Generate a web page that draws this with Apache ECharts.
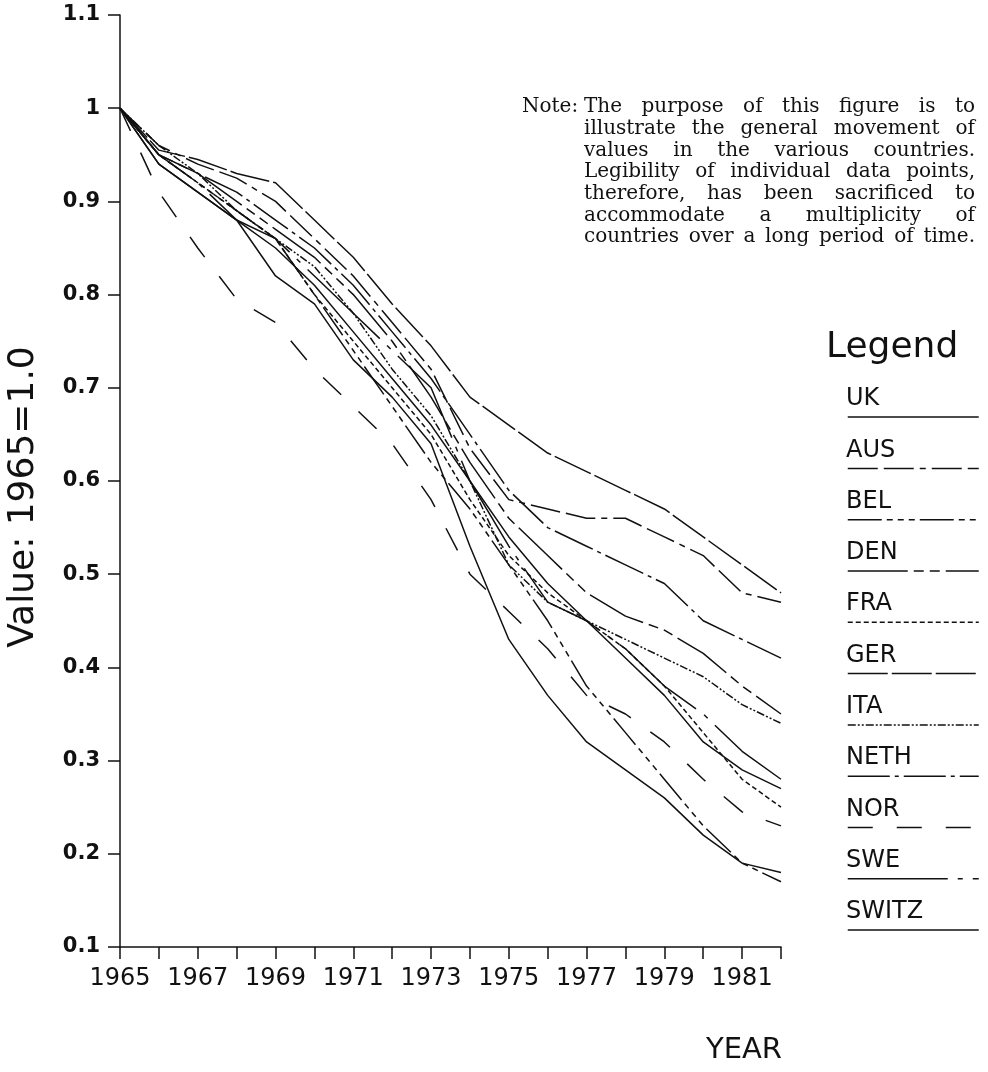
<!DOCTYPE html>
<html>
<head>
<meta charset="utf-8">
<script src="https://cdn.jsdelivr.net/npm/echarts@6/dist/echarts.min.js"></script>
<style>
  html, body { margin: 0; padding: 0; background: #fff; }
  #chart { width: 988px; height: 1072px; }
</style>
</head>
<body>
<div id="chart"></div>
<script>
// years on the x axis (1965 = 1.0 index)
const years = ['1965', '1966', '1967', '1968', '1969', '1970', '1971', '1972', '1973',
  '1974', '1975', '1976', '1977', '1978', '1979', '1980', '1981', '1982'];

const countries = ['UK', 'AUS', 'BEL', 'DEN', 'FRA', 'GER', 'ITA', 'NETH', 'NOR', 'SWE', 'SWITZ'];

// values, one array per country
const ukValues    = [1.00, 0.94, 0.91, 0.88, 0.85, 0.81, 0.76, 0.71, 0.66, 0.60, 0.54, 0.49, 0.45, 0.41, 0.37, 0.32, 0.29, 0.27];
const ausValues   = [1.00, 0.96, 0.94, 0.925, 0.90, 0.86, 0.82, 0.77, 0.72, 0.635, 0.58, 0.57, 0.56, 0.56, 0.54, 0.52, 0.48, 0.47];
const belValues   = [1.00, 0.95, 0.92, 0.89, 0.86, 0.80, 0.74, 0.68, 0.62, 0.57, 0.51, 0.45, 0.38, 0.33, 0.28, 0.23, 0.19, 0.17];
const denValues   = [1.00, 0.95, 0.93, 0.90, 0.87, 0.84, 0.80, 0.75, 0.69, 0.62, 0.56, 0.52, 0.48, 0.455, 0.44, 0.415, 0.38, 0.35];
const fraValues   = [1.00, 0.95, 0.92, 0.89, 0.86, 0.80, 0.75, 0.70, 0.65, 0.58, 0.52, 0.48, 0.45, 0.42, 0.38, 0.33, 0.28, 0.25];
const gerValues   = [1.00, 0.955, 0.945, 0.93, 0.92, 0.88, 0.84, 0.79, 0.745, 0.69, 0.66, 0.63, 0.61, 0.59, 0.57, 0.54, 0.51, 0.48];
const itaValues   = [1.00, 0.96, 0.93, 0.89, 0.86, 0.83, 0.78, 0.72, 0.67, 0.60, 0.51, 0.47, 0.45, 0.43, 0.41, 0.39, 0.36, 0.34];
const nethValues  = [1.00, 0.95, 0.93, 0.91, 0.88, 0.85, 0.81, 0.76, 0.71, 0.65, 0.59, 0.55, 0.53, 0.51, 0.49, 0.45, 0.43, 0.41];
const norValues   = [1.00, 0.91, 0.85, 0.795, 0.77, 0.72, 0.68, 0.64, 0.58, 0.50, 0.46, 0.42, 0.37, 0.35, 0.32, 0.28, 0.245, 0.23];
const sweValues   = [1.00, 0.95, 0.92, 0.88, 0.86, 0.82, 0.78, 0.74, 0.70, 0.60, 0.53, 0.47, 0.45, 0.42, 0.38, 0.35, 0.31, 0.28];
const switzValues = [1.00, 0.94, 0.91, 0.88, 0.82, 0.79, 0.73, 0.69, 0.64, 0.53, 0.43, 0.37, 0.32, 0.29, 0.26, 0.22, 0.19, 0.18];

const seriesValues = [ukValues, ausValues, belValues, denValues, fraValues, gerValues,
  itaValues, nethValues, norValues, sweValues, switzValues];

// dash pattern per country (styling only)
const dashStyles = {
  UK: 'solid',
  AUS: [30, 6, 30, 6, 6, 6],
  BEL: [34, 5, 6, 5, 6, 5, 6, 5],
  DEN: [60, 6, 10, 6, 10, 6],
  FRA: [5, 3],
  GER: [40, 4],
  ITA: [8, 2, 2, 2, 2, 2],
  NETH: [42, 5, 4, 5],
  NOR: [25, 24],
  SWE: [100, 10, 5, 10],
  SWITZ: 'solid'
};

const noteLines = [
  'The purpose of this figure is to',
  'illustrate the general movement of',
  'values in the various countries.',
  'Legibility of individual data points,',
  'therefore, has been sacrificed to',
  'accommodate a multiplicity of',
  'countries over a long period of time.'
];

const sansFont = '"DejaVu Sans", sans-serif';
const noteFont = '20px "DejaVu Serif", serif';

// justify one line of the note between x0 and x1
const measureCtx = document.createElement('canvas').getContext('2d');
function justifiedLine(text, x0, x1, y) {
  measureCtx.font = noteFont;
  const words = text.split(' ');
  const widths = words.map(w => measureCtx.measureText(w).width);
  const total = widths.reduce((a, b) => a + b, 0);
  const gap = words.length > 1 ? Math.max(4, (x1 - x0 - total) / (words.length - 1)) : 0;
  const els = [];
  let x = x0;
  words.forEach((w, i) => {
    els.push({
      type: 'text', x: x, y: y, silent: true,
      style: { text: w, font: noteFont, fill: '#111', textVerticalAlign: 'middle' }
    });
    x += widths[i] + gap;
  });
  return els;
}

const chart = echarts.init(document.getElementById('chart'), null, { renderer: 'canvas' });

const graphics = [];
// y axis title
graphics.push({
  type: 'text', x: 24, y: 497, rotation: Math.PI / 2, silent: true,
  style: { text: 'Value: 1965=1.0', font: '36px ' + sansFont, fill: '#111', textAlign: 'center', textVerticalAlign: 'middle' }
});
// x axis title
graphics.push({
  type: 'text', x: 744, y: 1050, silent: true,
  style: { text: 'YEAR', font: '29px ' + sansFont, fill: '#111', textAlign: 'center', textVerticalAlign: 'middle' }
});
// note
graphics.push({
  type: 'text', x: 522, y: 107, silent: true,
  style: { text: 'Note:', font: noteFont, fill: '#111', textVerticalAlign: 'middle' }
});
noteLines.forEach((line, i) => {
  justifiedLine(line, 584, 975, 107 + i * 21.7).forEach(el => graphics.push(el));
});
// legend heading and names
graphics.push({
  type: 'text', x: 826, y: 348, silent: true,
  style: { text: 'Legend', font: '36px ' + sansFont, fill: '#111', textVerticalAlign: 'middle' }
});
countries.forEach((name, i) => {
  graphics.push({
    type: 'text', x: 846, y: 399 + i * 51.3, silent: true,
    style: { text: name, font: '24px ' + sansFont, fill: '#111', textVerticalAlign: 'middle' }
  });
});

const option = {
  animation: false,
  backgroundColor: '#fff',
  grid: { left: 120, right: 207, top: 15, bottom: 125 },
  legend: {
    orient: 'vertical',
    left: 847,
    top: 411.5,
    padding: 0,
    itemWidth: 131,
    itemHeight: 14,
    itemGap: 40.1,
    selectedMode: false,
    data: countries,
    formatter: () => ' ',
    itemStyle: { opacity: 0 },
    lineStyle: { width: 1.5 },
    textStyle: { fontSize: 2 }
  },
  xAxis: {
    type: 'category',
    data: years,
    boundaryGap: false,
    axisLine: { lineStyle: { color: '#111', width: 1.5 } },
    axisTick: { show: true, interval: 0, length: 12, lineStyle: { color: '#111', width: 1.5 } },
    axisLabel: { interval: 1, fontSize: 24, fontFamily: sansFont, color: '#111', margin: 20 },
    splitLine: { show: false }
  },
  yAxis: {
    type: 'value',
    min: 0.1,
    max: 1.1,
    interval: 0.1,
    axisLine: { show: true, lineStyle: { color: '#111', width: 1.5 } },
    axisTick: { show: true, length: 12, lineStyle: { color: '#111', width: 1.5 } },
    axisLabel: { fontSize: 21, fontWeight: 'bold', fontFamily: sansFont, color: '#111', margin: 20 },
    splitLine: { show: false }
  },
  series: countries.map((name, i) => ({
    name: name,
    type: 'line',
    data: seriesValues[i],
    symbol: 'none',
    smooth: false,
    lineStyle: { color: '#111', width: 1.5, type: dashStyles[name] },
    emphasis: { disabled: true }
  })),
  graphic: graphics
};

chart.setOption(option);
</script>
</body>
</html>
